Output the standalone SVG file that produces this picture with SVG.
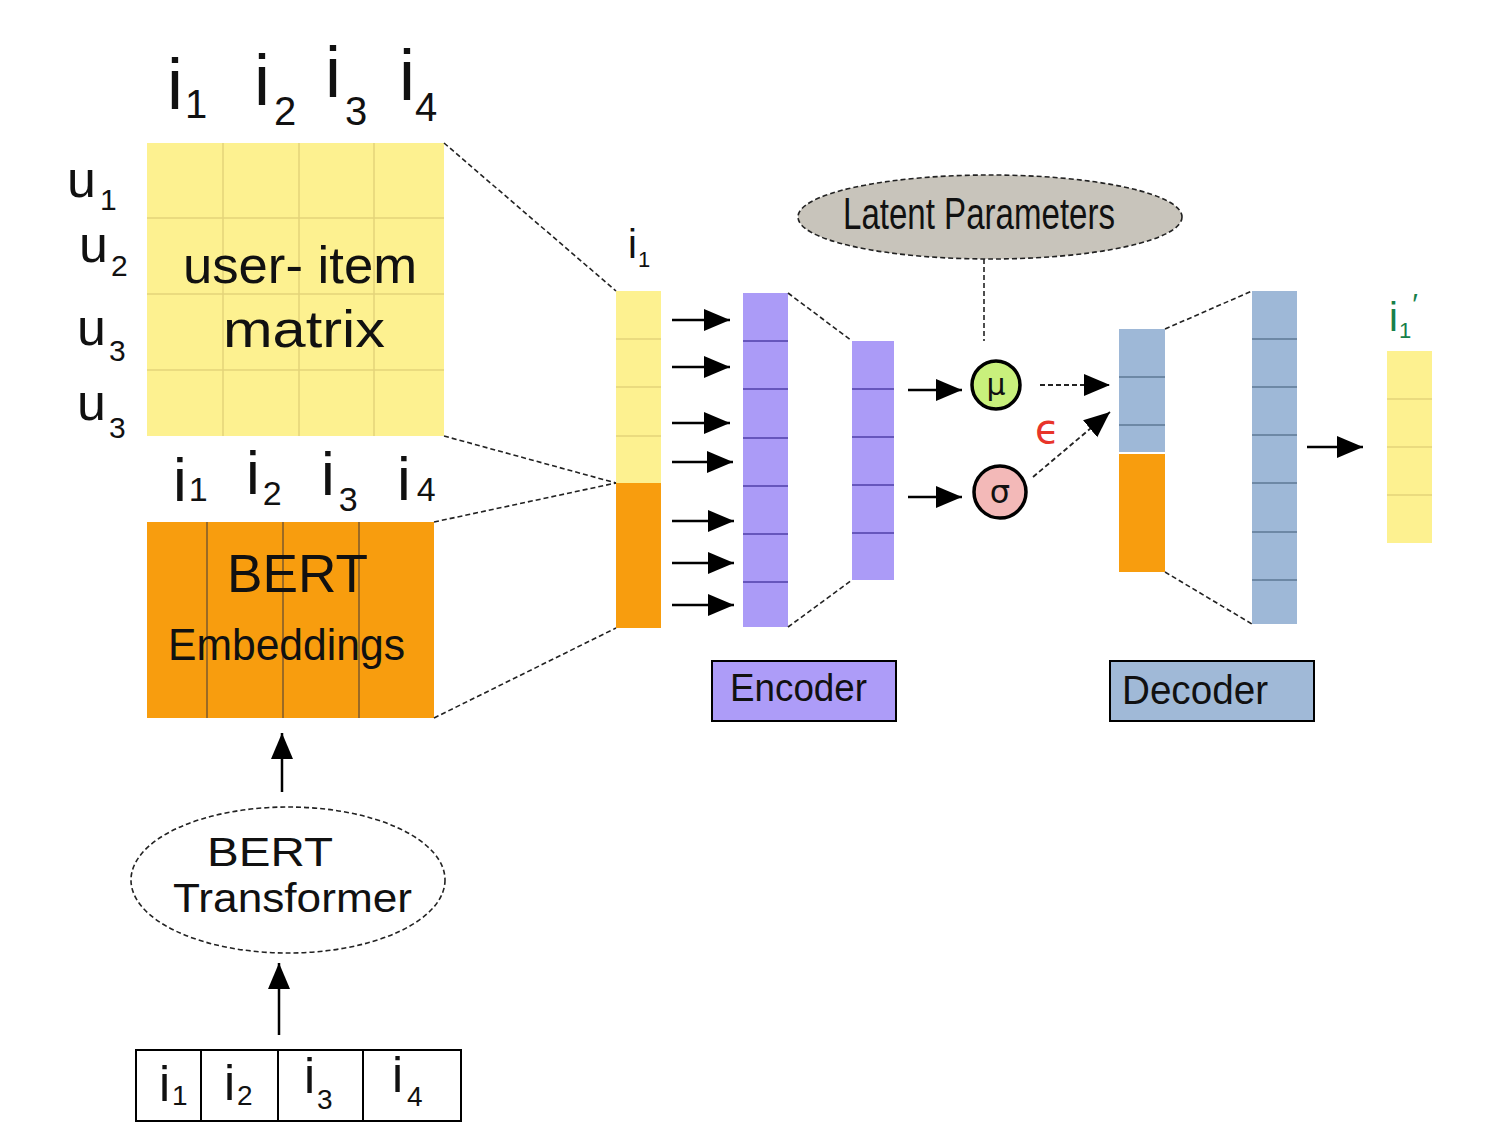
<svg xmlns="http://www.w3.org/2000/svg" width="1493" height="1146" viewBox="0 0 1493 1146">
<style>
  .t { font-family: "Liberation Sans", "Open Sans", sans-serif; fill: #111; }
  .yel { fill: #fdf190; }
  .org { fill: #f89d0e; }
  .pur { fill: #ab9bf7; }
  .blu { fill: #9eb8d7; }
  .ygrid { stroke: #e3d37a; stroke-width: 1.5; }
  .ogrid { stroke: #7d5a2c; stroke-width: 1.5; }
  .pgrid { stroke: #4f3fa8; stroke-width: 1.6; }
  .bgrid { stroke: #5d7895; stroke-width: 1.6; }
  .dash { stroke: #222; stroke-width: 1.6; stroke-dasharray: 5 3; fill: none; }
  .arr { stroke: #000; stroke-width: 2.5; fill: none; marker-end: url(#ah); }
  .darr { stroke: #222; stroke-width: 1.8; stroke-dasharray: 5 3; fill: none; marker-end: url(#ah); }
  .box { stroke: #000; stroke-width: 2; }
</style>
<defs>
  <marker id="ah" markerUnits="userSpaceOnUse" markerWidth="28" markerHeight="24" refX="26" refY="11" orient="auto">
    <path d="M0,0 L26,11 L0,22 Z" fill="#000"/>
  </marker>
</defs>
<rect width="1493" height="1146" fill="#fff"/>

<g id="matrix-labels">
  <text class="t" x="167" y="109" font-size="72">i<tspan font-size="40" dx="2" dy="9">1</tspan></text>
  <text class="t" x="254" y="105" font-size="72">i<tspan font-size="40" dx="4" dy="20">2</tspan></text>
  <text class="t" x="325" y="97" font-size="72">i<tspan font-size="40" dx="4" dy="28">3</tspan></text>
  <text class="t" x="399" y="100" font-size="72">i<tspan font-size="40" dx="0" dy="21">4</tspan></text>
  <text class="t" x="67" y="197" font-size="52">u<tspan font-size="30" dx="4" dy="13">1</tspan></text>
  <text class="t" x="79" y="262" font-size="52">u<tspan font-size="30" dx="3" dy="14">2</tspan></text>
  <text class="t" x="77" y="345" font-size="52">u<tspan font-size="30" dx="3" dy="16">3</tspan></text>
  <text class="t" x="77" y="420" font-size="52">u<tspan font-size="30" dx="3" dy="18">3</tspan></text>
</g>

<g id="user-item-matrix">
  <rect class="yel" x="147" y="143" width="297" height="293"/>
  <line class="ygrid" x1="223" y1="143" x2="223" y2="436"/>
  <line class="ygrid" x1="299" y1="143" x2="299" y2="436"/>
  <line class="ygrid" x1="374" y1="143" x2="374" y2="436"/>
  <line class="ygrid" x1="147" y1="218" x2="444" y2="218"/>
  <line class="ygrid" x1="147" y1="294" x2="444" y2="294"/>
  <line class="ygrid" x1="147" y1="370" x2="444" y2="370"/>
  <text class="t" x="183" y="283" font-size="52" textLength="234" lengthAdjust="spacingAndGlyphs">user- item</text>
  <text class="t" x="223" y="347" font-size="52" textLength="162" lengthAdjust="spacingAndGlyphs">matrix</text>
</g>

<g id="bert-labels">
  <text class="t" x="173" y="501" font-size="62">i<tspan font-size="34" dx="2" dy="0">1</tspan></text>
  <text class="t" x="246" y="494" font-size="62">i<tspan font-size="34" dx="3" dy="11">2</tspan></text>
  <text class="t" x="321" y="495" font-size="62">i<tspan font-size="34" dx="4" dy="16">3</tspan></text>
  <text class="t" x="397" y="500" font-size="62">i<tspan font-size="34" dx="6" dy="1">4</tspan></text>
</g>

<g id="bert-embeddings">
  <rect class="org" x="147" y="522" width="287" height="196"/>
  <line class="ogrid" x1="207" y1="522" x2="207" y2="718"/>
  <line class="ogrid" x1="283" y1="522" x2="283" y2="718"/>
  <line class="ogrid" x1="359" y1="522" x2="359" y2="718"/>
  <text class="t" x="227" y="592" font-size="54" textLength="141" lengthAdjust="spacingAndGlyphs">BERT</text>
  <text class="t" x="168" y="660" font-size="44" textLength="237" lengthAdjust="spacingAndGlyphs">Embeddings</text>
</g>

<g id="bert-transformer">
  <ellipse cx="288" cy="880" rx="157" ry="73" class="dash" style="fill:#fff"/>
  <text class="t" x="207" y="866" font-size="40" textLength="126" lengthAdjust="spacingAndGlyphs">BERT</text>
  <text class="t" x="173" y="912" font-size="40" textLength="239" lengthAdjust="spacingAndGlyphs">Transformer</text>
</g>

<g id="items-input">
  <rect x="136" y="1050" width="325" height="71" fill="#fff" class="box"/>
  <line class="box" x1="201" y1="1050" x2="201" y2="1121"/>
  <line class="box" x1="278" y1="1050" x2="278" y2="1121"/>
  <line class="box" x1="363" y1="1050" x2="363" y2="1121"/>
  <text class="t" x="159" y="1101" font-size="50">i<tspan font-size="28" dx="2" dy="4">1</tspan></text>
  <text class="t" x="224" y="1100" font-size="50">i<tspan font-size="28" dx="2" dy="5">2</tspan></text>
  <text class="t" x="304" y="1093" font-size="50">i<tspan font-size="28" dx="2" dy="16">3</tspan></text>
  <text class="t" x="392" y="1092" font-size="50">i<tspan font-size="28" dx="4" dy="14">4</tspan></text>
</g>

<g id="input-vector">
  <text class="t" x="628" y="258" font-size="40">i<tspan font-size="22" dx="1" dy="9">1</tspan></text>
  <rect class="yel" x="616" y="291" width="45" height="192"/>
  <rect class="org" x="616" y="483" width="45" height="145"/>
  <line class="ygrid" x1="616" y1="339" x2="661" y2="339"/>
  <line class="ygrid" x1="616" y1="387" x2="661" y2="387"/>
  <line class="ygrid" x1="616" y1="436" x2="661" y2="436"/>
</g>

<g id="encoder-layer1">
  <rect class="pur" x="743" y="293" width="45" height="334"/>
  <line class="pgrid" x1="743" y1="341" x2="788" y2="341"/>
  <line class="pgrid" x1="743" y1="389" x2="788" y2="389"/>
  <line class="pgrid" x1="743" y1="438" x2="788" y2="438"/>
  <line class="pgrid" x1="743" y1="486" x2="788" y2="486"/>
  <line class="pgrid" x1="743" y1="534" x2="788" y2="534"/>
  <line class="pgrid" x1="743" y1="582" x2="788" y2="582"/>
</g>

<g id="encoder-layer2">
  <rect class="pur" x="852" y="341" width="42" height="239"/>
  <line class="pgrid" x1="852" y1="389" x2="894" y2="389"/>
  <line class="pgrid" x1="852" y1="437" x2="894" y2="437"/>
  <line class="pgrid" x1="852" y1="485" x2="894" y2="485"/>
  <line class="pgrid" x1="852" y1="533" x2="894" y2="533"/>
</g>

<g id="latent-parameters">
  <ellipse cx="990" cy="217" rx="192" ry="42" class="dash" style="fill:#c8c4bb"/>
  <text class="t" x="843" y="229" font-size="44" textLength="272" lengthAdjust="spacingAndGlyphs">Latent Parameters</text>
</g>

<g id="mu">
  <circle cx="996" cy="385" r="24" fill="#c9f07c" stroke="#000" stroke-width="3.5"/>
  <text x="996" y="395" font-size="30" text-anchor="middle" fill="#111" font-family="DejaVu Sans, sans-serif">μ</text>
</g>

<g id="sigma">
  <circle cx="1000" cy="492" r="26" fill="#f3b9b8" stroke="#000" stroke-width="3.5"/>
  <text x="1000" y="503" font-size="32" text-anchor="middle" fill="#111" font-family="DejaVu Sans, sans-serif">σ</text>
</g>

<g id="epsilon">
  <text x="1035" y="443" font-size="40" fill="#e8342a" font-family="DejaVu Sans, sans-serif">ϵ</text>
</g>

<g id="decoder-layer1">
  <rect class="blu" x="1119" y="329" width="46" height="123"/>
  <rect class="org" x="1119" y="454" width="46" height="118"/>
  <line class="bgrid" x1="1119" y1="377" x2="1165" y2="377"/>
  <line class="bgrid" x1="1119" y1="425" x2="1165" y2="425"/>
</g>

<g id="decoder-layer2">
  <rect class="blu" x="1252" y="291" width="45" height="333"/>
  <line class="bgrid" x1="1252" y1="339" x2="1297" y2="339"/>
  <line class="bgrid" x1="1252" y1="387" x2="1297" y2="387"/>
  <line class="bgrid" x1="1252" y1="435" x2="1297" y2="435"/>
  <line class="bgrid" x1="1252" y1="483" x2="1297" y2="483"/>
  <line class="bgrid" x1="1252" y1="532" x2="1297" y2="532"/>
  <line class="bgrid" x1="1252" y1="580" x2="1297" y2="580"/>
</g>

<g id="output-vector">
  <text x="1389" y="331" font-size="40" fill="#17804a" font-family="Liberation Sans, sans-serif">i<tspan font-size="22" dx="1" dy="7">1</tspan><tspan font-size="30" dx="1" dy="-24">′</tspan></text>
  <rect class="yel" x="1387" y="351" width="45" height="192"/>
  <line class="ygrid" x1="1387" y1="399" x2="1432" y2="399"/>
  <line class="ygrid" x1="1387" y1="447" x2="1432" y2="447"/>
  <line class="ygrid" x1="1387" y1="495" x2="1432" y2="495"/>
</g>

<g id="encoder-label">
  <rect x="712" y="661" width="184" height="60" fill="#ad9cf8" class="box"/>
  <text class="t" x="730" y="701" font-size="38" textLength="137" lengthAdjust="spacingAndGlyphs">Encoder</text>
</g>

<g id="decoder-label">
  <rect x="1110" y="661" width="204" height="60" fill="#a0b9d7" class="box"/>
  <text class="t" x="1122" y="704" font-size="40" textLength="146" lengthAdjust="spacingAndGlyphs">Decoder</text>
</g>

<g id="connectors">
  <line class="dash" x1="444" y1="143" x2="616" y2="291"/>
  <line class="dash" x1="444" y1="436" x2="616" y2="483"/>
  <line class="dash" x1="434" y1="522" x2="616" y2="483"/>
  <line class="dash" x1="434" y1="718" x2="616" y2="628"/>
  <line class="dash" x1="788" y1="293" x2="852" y2="341"/>
  <line class="dash" x1="788" y1="627" x2="852" y2="580"/>
  <line class="dash" x1="1165" y1="329" x2="1252" y2="291"/>
  <line class="dash" x1="1165" y1="572" x2="1252" y2="624"/>
  <line class="dash" x1="984" y1="259" x2="984" y2="341"/>
  <line class="arr" x1="672" y1="320" x2="730" y2="320"/>
  <line class="arr" x1="672" y1="367" x2="730" y2="367"/>
  <line class="arr" x1="672" y1="423" x2="730" y2="423"/>
  <line class="arr" x1="672" y1="462" x2="733" y2="462"/>
  <line class="arr" x1="672" y1="521" x2="734" y2="521"/>
  <line class="arr" x1="672" y1="563" x2="734" y2="563"/>
  <line class="arr" x1="672" y1="605" x2="734" y2="605"/>
  <line class="arr" x1="908" y1="390" x2="962" y2="390"/>
  <line class="arr" x1="908" y1="497" x2="962" y2="497"/>
  <line class="darr" x1="1040" y1="385" x2="1110" y2="385"/>
  <line class="darr" x1="1033" y1="477" x2="1110" y2="412"/>
  <line class="arr" x1="1307" y1="447" x2="1363" y2="447"/>
  <line class="arr" x1="282" y1="792" x2="282" y2="733"/>
  <line class="arr" x1="279" y1="1035" x2="279" y2="963"/>
</g>
</svg>
